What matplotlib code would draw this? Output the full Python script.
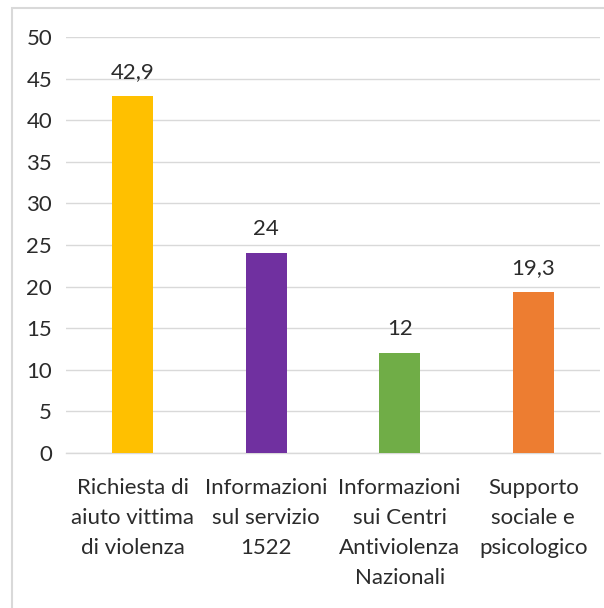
import matplotlib.pyplot as plt
from matplotlib.patches import Rectangle

categories = [
    "Richiesta di\naiuto vittima\ndi violenza",
    "Informazioni\nsul servizio\n1522",
    "Informazioni\nsui Centri\nAntiviolenza\nNazionali",
    "Supporto\nsociale e\npsicologico",
]
values = [42.9, 24, 12, 19.3]
value_labels = ["42,9", "24", "12", "19,3"]
colors = ["#FFC000", "#7030A0", "#70AD47", "#ED7D31"]
yticks = list(range(0, 55, 5))

plt.rcParams["font.family"] = ["Lato", "DejaVu Sans"]
text_color = "#2b2b2b"
grid_color = "#D9D9D9"
fs = 16

fig = plt.figure(figsize=(6.04, 6.08), dpi=100)
W, H = 604, 608

# chart frame, open on the right and bottom edges
fig.patches.append(Rectangle((12 / W, -0.05), 1.1, 1 - 8 / H + 0.05,
                             transform=fig.transFigure, fill=False,
                             edgecolor=grid_color, linewidth=1.5))

ax = fig.add_axes([66 / W, 1 - 453 / H, (600 - 66) / W, (453 - 37) / H])
x = range(len(values))
ax.bar(x, values, width=0.31, color=colors, zorder=3)

for xi, v, lab in zip(x, values, value_labels):
    ax.annotate(lab, (xi, v), xytext=(0, 10), textcoords="offset points",
                ha="center", va="bottom", fontsize=fs, color=text_color)

ax.set_xlim(-0.5, len(values) - 0.5)
ax.set_ylim(0, 50)
ax.set_yticks(yticks)
ax.set_yticklabels([str(t) for t in yticks], fontsize=fs, color=text_color)
ax.set_xticks(list(x))
ax.set_xticklabels(categories, fontsize=fs, color=text_color,
                   linespacing=1.62, va="top")
ax.tick_params(axis="y", length=0, pad=10)
ax.tick_params(axis="x", length=0, pad=18)
ax.grid(axis="y", color=grid_color, linewidth=1.0, zorder=0)
for side in ["top", "right", "left"]:
    ax.spines[side].set_visible(False)
ax.spines["bottom"].set_color(grid_color)
ax.spines["bottom"].set_linewidth(1.0)

fig.savefig("out.png", dpi=100)
